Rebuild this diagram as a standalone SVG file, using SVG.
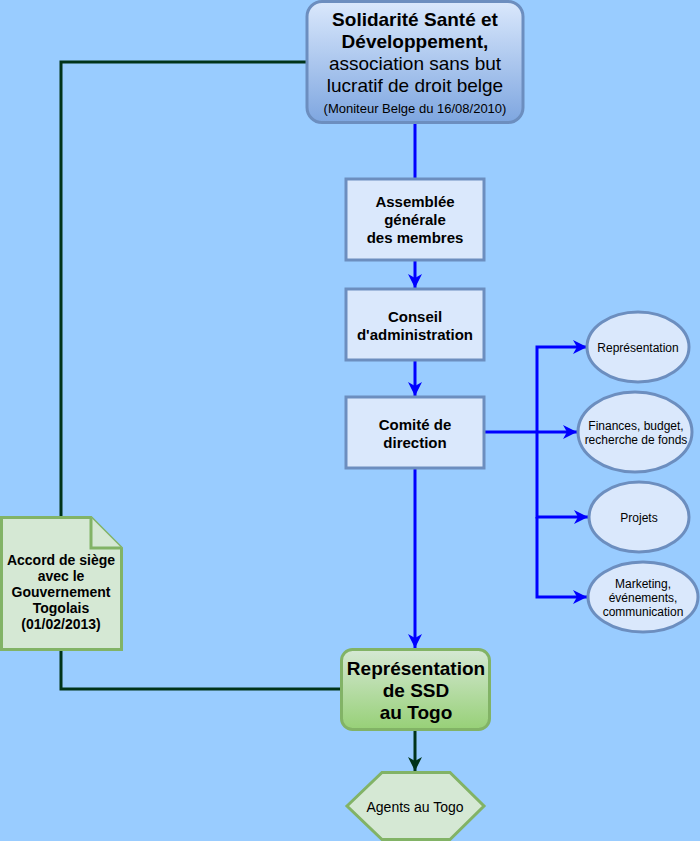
<svg xmlns="http://www.w3.org/2000/svg" width="700" height="841" viewBox="0 0 700 841">
<style>
text{font-family:"Liberation Sans",Arial,sans-serif;fill:#000;text-anchor:middle;dominant-baseline:central}
.b{font-weight:bold}
.box{fill:#dae8fc;stroke:#6c8ebf;stroke-width:3}
.ell{fill:#dae8fc;stroke:#6c8ebf;stroke-width:3}
.grn{fill:#d5e8d4;stroke:#82b366;stroke-width:3}
.bl{fill:none;stroke:#0000ff;stroke-width:3}
.dg{fill:none;stroke:#003319;stroke-width:3}
</style>
<defs>
<linearGradient id="gb" x1="0" y1="0" x2="0" y2="1"><stop offset="0" stop-color="#dae8fc"/><stop offset="1" stop-color="#7ea6e0"/></linearGradient>
<linearGradient id="gg" x1="0" y1="0" x2="0" y2="1"><stop offset="0" stop-color="#d5e8d4"/><stop offset="1" stop-color="#97d077"/></linearGradient>
<marker id="ab" markerWidth="16" markerHeight="16" viewBox="0 0 16 16" refX="15" refY="8" orient="auto" markerUnits="userSpaceOnUse"><path d="M1,1 L15,8 L1,15 L5,8 Z" fill="#0000ff"/></marker>
<marker id="ag" markerWidth="16" markerHeight="16" viewBox="0 0 16 16" refX="15" refY="8" orient="auto" markerUnits="userSpaceOnUse"><path d="M1,1 L15,8 L1,15 L5,8 Z" fill="#003319"/></marker>
</defs>
<rect width="700" height="841" fill="#99ccff"/>
<g id="connectors">
<path class="dg" d="M307,62 H61 V689 H341"/>
<path class="bl" d="M415,123 V179"/>
<path class="bl" d="M415,260 V288" marker-end="url(#ab)"/>
<path class="bl" d="M415,360 V396" marker-end="url(#ab)"/>
<path class="bl" d="M415,468 V648" marker-end="url(#ab)"/>
<path class="bl" d="M484,432 H577" marker-end="url(#ab)"/>
<path class="bl" d="M537,432 V347 H587" marker-end="url(#ab)"/>
<path class="bl" d="M537,432 V517 H588" marker-end="url(#ab)"/>
<path class="bl" d="M537,517 V597 H587" marker-end="url(#ab)"/>
<path class="dg" d="M415,730 V771" marker-end="url(#ag)"/>
</g>
<g id="ssd">
<rect x="307" y="1.5" width="216" height="121" rx="15" fill="url(#gb)" stroke="#6c8ebf" stroke-width="3"/>
<text x="415" y="19" class="b" font-size="19">Solidarité Santé et</text>
<text x="415" y="41" class="b" font-size="19">Développement,</text>
<text x="415" y="63" font-size="19">association sans but</text>
<text x="415" y="85" font-size="19">lucratif de droit belge</text>
<text x="415" y="108" font-size="13">(Moniteur Belge du 16/08/2010)</text>
</g>
<g id="assemblee">
<rect class="box" x="346" y="179" width="138" height="81"/>
<text x="415" y="201" class="b" font-size="15">Assemblée</text>
<text x="415" y="219" class="b" font-size="15">générale</text>
<text x="415" y="237" class="b" font-size="15">des membres</text>
</g>
<g id="conseil">
<rect class="box" x="346" y="289" width="138" height="71"/>
<text x="415" y="316" class="b" font-size="15">Conseil</text>
<text x="415" y="334" class="b" font-size="15">d'administration</text>
</g>
<g id="comite">
<rect class="box" x="346" y="397" width="138" height="71"/>
<text x="415" y="424" class="b" font-size="15">Comité de</text>
<text x="415" y="442" class="b" font-size="15">direction</text>
</g>
<g id="representation">
<ellipse class="ell" cx="638" cy="347" rx="51" ry="35"/>
<text x="638" y="348" font-size="12">Représentation</text>
</g>
<g id="finances">
<ellipse class="ell" cx="635" cy="432" rx="57" ry="40"/>
<text x="636" y="426" font-size="12">Finances, budget,</text>
<text x="636" y="440" font-size="12">recherche de fonds</text>
</g>
<g id="projets">
<ellipse class="ell" cx="639" cy="517" rx="50" ry="35"/>
<text x="639" y="518" font-size="12">Projets</text>
</g>
<g id="marketing">
<ellipse class="ell" cx="643" cy="597" rx="55" ry="35"/>
<text x="643" y="584" font-size="12">Marketing,</text>
<text x="643" y="598" font-size="12">événements,</text>
<text x="643" y="612" font-size="12">communication</text>
</g>
<g id="accord">
<path class="grn" d="M1.5,517.5 H91 L121.5,548 V649.5 H1.5 Z"/>
<path class="grn" d="M91,517.5 V548 H121.5"/>
<text x="61" y="560" class="b" font-size="14">Accord de siège</text>
<text x="61" y="576" class="b" font-size="14">avec le</text>
<text x="61" y="592" class="b" font-size="14">Gouvernement</text>
<text x="61" y="608" class="b" font-size="14">Togolais</text>
<text x="61" y="624" class="b" font-size="14">(01/02/2013)</text>
</g>
<g id="rep-togo">
<rect x="341.5" y="649.5" width="148" height="80" rx="11" fill="url(#gg)" stroke="#82b366" stroke-width="3"/>
<text x="416" y="668" class="b" font-size="19">Représentation</text>
<text x="416" y="690" class="b" font-size="19">de SSD</text>
<text x="416" y="712" class="b" font-size="19">au Togo</text>
</g>
<g id="agents">
<polygon class="grn" points="347,806 382,772.5 450,772.5 484,806 450,839.5 382,839.5"/>
<text x="415" y="807" font-size="14">Agents au Togo</text>
</g>
</svg>
